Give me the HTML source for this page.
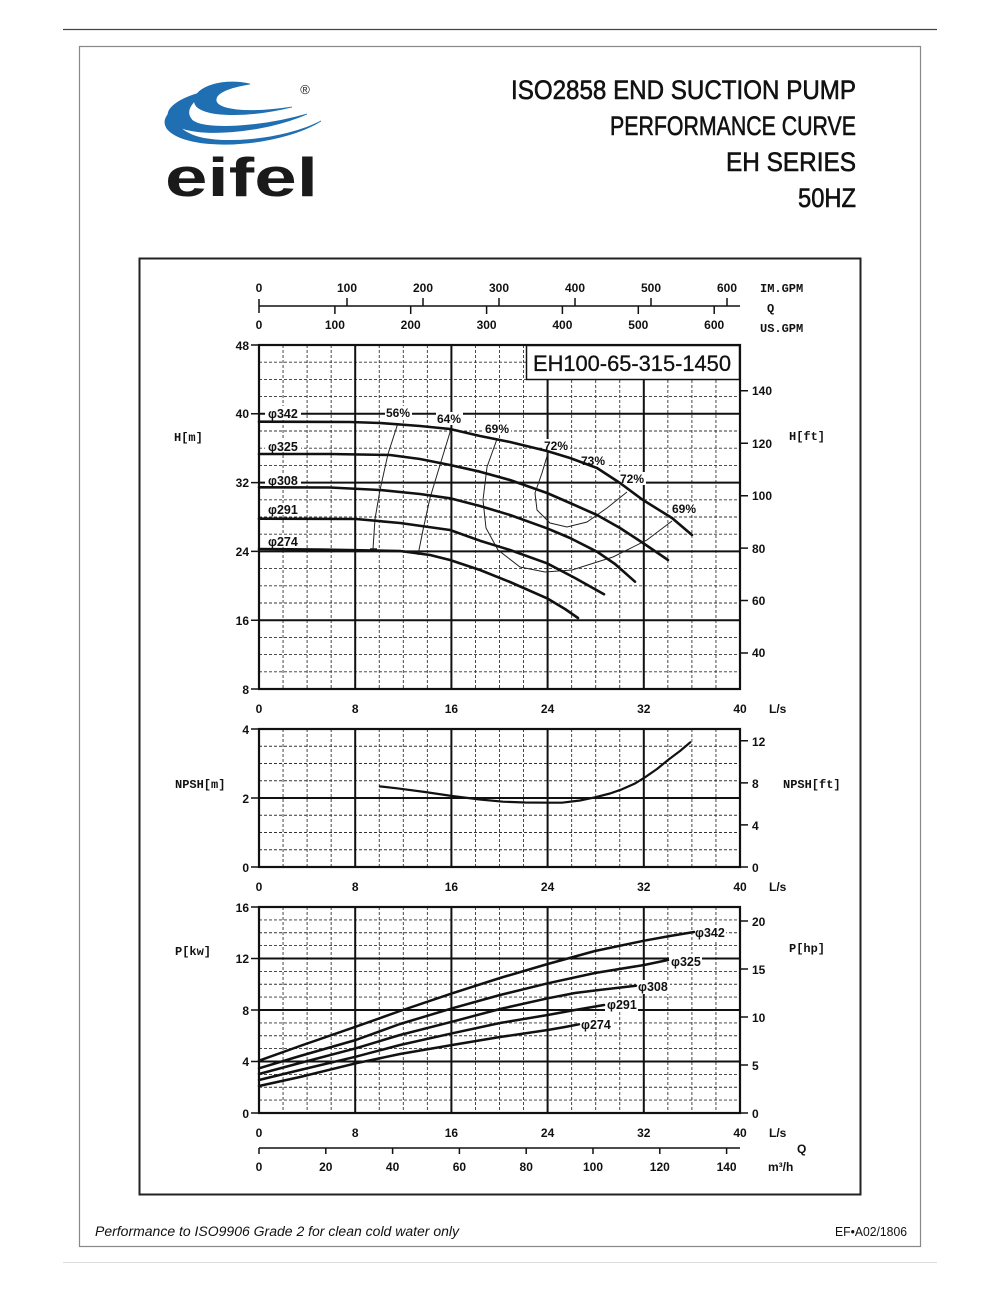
<!DOCTYPE html>
<html>
<head>
<meta charset="utf-8">
<style>
html,body{margin:0;padding:0;background:#fff;}
svg{display:block;}
.t{font-family:"Liberation Sans",Arial,sans-serif;font-weight:bold;font-size:12px;fill:#111;}
.m{font-family:"Liberation Mono","DejaVu Sans Mono",monospace;font-weight:bold;font-size:12px;fill:#111;}
.d{font-family:"Liberation Sans",Arial,sans-serif;font-weight:bold;font-size:12.5px;fill:#111;}
</style>
</head>
<body>
<svg width="1000" height="1293" viewBox="0 0 1000 1293" xmlns="http://www.w3.org/2000/svg">
<rect width="1000" height="1293" fill="#fff"/>
<!-- page lines -->
<line x1="63" y1="29.5" x2="937" y2="29.5" stroke="#444" stroke-width="1.2"/>
<rect x="79.5" y="46.5" width="841" height="1200" fill="none" stroke="#888" stroke-width="1.2"/>
<line x1="63" y1="1262.5" x2="937" y2="1262.5" stroke="#ddd" stroke-width="1"/>

<!-- logo -->
<g fill="#1f6fb2" stroke="#1f6fb2" stroke-width="0.8">
<path d="M250 84 C218 77,190 90,195 104 C200 116,242 119,292 107 C246 114,216 110,216 100 C216 92,232 87,250 84 Z"/>
<path d="M212 90 C178 97,158 111,173 124 C194 139,264 133,307 114 C262 127,204 131,192 120 C183 110,194 98,212 90 Z"/>
<path d="M186 102 C162 113,157 127,179 137 C212 151,284 144,321 121 C283 141,214 146,190 134 C171 125,173 112,186 102 Z"/>
</g>
<text x="305" y="94" font-family="Liberation Sans,sans-serif" font-size="13" fill="#222" text-anchor="middle">®</text>
<text x="165" y="196" font-family="Liberation Sans,Arial,sans-serif" font-weight="bold" font-size="55" fill="#1a1a1a" textLength="153" lengthAdjust="spacingAndGlyphs">eifel</text>

<!-- title -->
<g font-family="Liberation Sans,Arial,sans-serif" font-size="27" fill="#111" stroke="#111" stroke-width="0.6" text-anchor="end">
<text x="856" y="99" textLength="345" lengthAdjust="spacingAndGlyphs">ISO2858 END SUCTION PUMP</text>
<text x="856" y="135" textLength="246" lengthAdjust="spacingAndGlyphs">PERFORMANCE CURVE</text>
<text x="856" y="171" textLength="130" lengthAdjust="spacingAndGlyphs">EH SERIES</text>
<text x="856" y="207" textLength="58" lengthAdjust="spacingAndGlyphs">50HZ</text>
</g>

<!-- inner box -->
<rect x="139.5" y="258.5" width="721" height="936" fill="none" stroke="#222" stroke-width="2"/>

<!-- top axis -->
<g stroke="#111" stroke-width="1.5" fill="none">
<line x1="259" y1="306" x2="740" y2="306"/>
<line x1="259" y1="299" x2="259" y2="313"/>
<path d="M347 298V306 M423 298V306 M499 298V306 M575 298V306 M651 298V306 M727 298V306"/>
<path d="M334.9 306V314 M410.7 306V314 M486.6 306V314 M562.4 306V314 M638.3 306V314 M714.2 306V314"/>
</g>
<g class="t" text-anchor="middle">
<text x="259" y="292">0</text><text x="347" y="292">100</text><text x="423" y="292">200</text><text x="499" y="292">300</text><text x="575" y="292">400</text><text x="651" y="292">500</text><text x="727" y="292">600</text>
<text x="259" y="329">0</text><text x="334.9" y="329">100</text><text x="410.7" y="329">200</text><text x="486.6" y="329">300</text><text x="562.4" y="329">400</text><text x="638.3" y="329">500</text><text x="714.2" y="329">600</text>
</g>
<text class="m" x="760" y="292" font-size="11.5">IM.GPM</text>
<text class="m" x="767" y="312">Q</text>
<text class="m" x="760" y="332" font-size="11.5">US.GPM</text>

<!-- ===== H CHART ===== -->
<g fill="none">
<path stroke="#333" stroke-width="0.9" stroke-dasharray="3,2" d="M283.05 345V689 M307.1 345V689 M331.15 345V689 M379.25 345V689 M403.3 345V689 M427.35 345V689 M475.45 345V689 M499.5 345V689 M523.55 345V689 M571.65 345V689 M595.7 345V689 M619.75 345V689 M667.85 345V689 M691.9 345V689 M715.95 345V689
M259 671.8H740 M259 654.6H740 M259 637.4H740 M259 603H740 M259 585.8H740 M259 568.6H740 M259 534.2H740 M259 517H740 M259 499.8H740 M259 465.4H740 M259 448.2H740 M259 431H740 M259 396.6H740 M259 379.4H740 M259 362.2H740"/>
<path stroke="#111" stroke-width="2" d="M355.2 345V689 M451.4 345V689 M547.6 345V689 M643.8 345V689 M259 620.2H740 M259 551.4H740 M259 482.6H740 M259 413.8H740"/>
<rect x="259" y="345" width="481" height="344" stroke="#111" stroke-width="2.2"/>
<path stroke="#111" stroke-width="1.5" d="M251 345H259 M251 413.8H259 M251 482.6H259 M251 551.4H259 M251 620.2H259 M251 689H259 M740 390.8H748 M740 443.25H748 M740 495.7H748 M740 548.1H748 M740 600.5H748 M740 652.95H748"/>
</g>
<!-- label backgrounds (under curves) -->
<g fill="#fff">
<rect x="265" y="406" width="36" height="14"/>
<rect x="265" y="440" width="36" height="12"/>
<rect x="265" y="474" width="36" height="12"/>
<rect x="265" y="503" width="36" height="12"/>
<rect x="265" y="535" width="36" height="12"/>
<rect x="385" y="406" width="27" height="14"/>
<rect x="436" y="412" width="27" height="13"/>
<rect x="484" y="422" width="27" height="13"/>
<rect x="543" y="439" width="27" height="13"/>
<rect x="580" y="454" width="27" height="13"/>
<rect x="619" y="472" width="27" height="13"/>
<rect x="671" y="502" width="27" height="13"/>
</g>
<!-- model box -->
<rect x="526.5" y="345.5" width="213" height="34" fill="#fff" stroke="#111" stroke-width="1.5"/>
<text x="533" y="371" font-family="Liberation Sans,Arial,sans-serif" font-size="22" fill="#111" stroke="#111" stroke-width="0.3" textLength="198" lengthAdjust="spacingAndGlyphs">EH100-65-315-1450</text>

<!-- efficiency curves -->
<g fill="none" stroke="#222" stroke-width="1">
<polyline points="398,423 388,454 380,490 375,519 373,549"/>
<polyline points="451,429 440,465 430,498 423,530 418,555"/>
<polyline points="497,439 487,467 483,500 486,528 498,550 520,567 545,572 572,570 613,557 647,540 672,521"/>
<polyline points="548,453 542,473 535,493 537,510 550,523 567,527 587,522 607,508 627,492"/>
<path d="M370 549H377" stroke-width="1.5"/>
</g>
<!-- head curves -->
<g fill="none" stroke="#111" stroke-width="2.6" stroke-linejoin="round" stroke-linecap="round">
<polyline points="259,421.7 300,421.8 350,422 380,423 420,426 450,429 480,436 510,442 547,451 570,458 597,468 620,483 643,500 672,518 692,535"/>
<polyline points="259,454 330,454 390,455 420,459 450,465 480,471.7 510,480 547,493 570,503 597,515 620,528 643,543 668,560"/>
<polyline points="259,487.3 330,487.5 380,490 420,494 450,498.3 480,506 510,515 547,528.3 570,538 597,551.7 615,564 635,581.7"/>
<polyline points="259,518.7 356,519 400,523 450,530 480,540.7 510,550 547,563.3 575,578 604,594.3"/>
<polyline points="259,549 320,549.5 400,551 430,555 450,560 480,570 510,582 547,598.3 565,609 578,618"/>
</g>
<g class="d">
<text x="268" y="418">φ342</text>
<text x="268" y="451">φ325</text>
<text x="268" y="485">φ308</text>
<text x="268" y="514">φ291</text>
<text x="268" y="546">φ274</text>
</g>
<g class="t" text-anchor="middle">
<text x="398" y="417">56%</text>
<text x="449" y="423">64%</text>
<text x="497" y="433">69%</text>
<text x="556" y="450">72%</text>
<text x="593" y="465">73%</text>
<text x="632" y="483">72%</text>
<text x="684" y="513">69%</text>
</g>
<g class="t" text-anchor="end">
<text x="249" y="350">48</text><text x="249" y="418">40</text><text x="249" y="487">32</text><text x="249" y="556">24</text><text x="249" y="625">16</text><text x="249" y="694">8</text>
</g>
<g class="t">
<text x="752" y="395">140</text><text x="752" y="448">120</text><text x="752" y="500">100</text><text x="752" y="553">80</text><text x="752" y="605">60</text><text x="752" y="657">40</text>
</g>
<text class="m" x="174" y="441">H[m]</text>
<text class="m" x="789" y="440">H[ft]</text>
<g class="t" text-anchor="middle">
<text x="259" y="713">0</text><text x="355.2" y="713">8</text><text x="451.4" y="713">16</text><text x="547.6" y="713">24</text><text x="643.8" y="713">32</text><text x="740" y="713">40</text>
</g>
<text class="t" x="769" y="713">L/s</text>

<!-- ===== NPSH CHART ===== -->
<g fill="none">
<path stroke="#333" stroke-width="0.9" stroke-dasharray="3,2" d="M283.05 729V867 M307.1 729V867 M331.15 729V867 M379.25 729V867 M403.3 729V867 M427.35 729V867 M475.45 729V867 M499.5 729V867 M523.55 729V867 M571.65 729V867 M595.7 729V867 M619.75 729V867 M667.85 729V867 M691.9 729V867 M715.95 729V867
M259 849.75H740 M259 832.5H740 M259 815.25H740 M259 780.75H740 M259 763.5H740 M259 746.25H740"/>
<path stroke="#111" stroke-width="2" d="M355.2 729V867 M451.4 729V867 M547.6 729V867 M643.8 729V867 M259 798H740"/>
<rect x="259" y="729" width="481" height="138" stroke="#111" stroke-width="2.2"/>
<path stroke="#111" stroke-width="1.5" d="M251 729H259 M251 798H259 M251 867H259 M740 740.8H748 M740 782.9H748 M740 824.9H748 M740 867H748"/>
<polyline stroke="#111" stroke-width="2.2" stroke-linejoin="round" points="379,786.3 397,788.3 425,792 452,796 480,799.5 503,801.7 525,802.5 549,802.7 562,802.7 580,800.5 595,797.3 610,793.5 622,789.3 635,783.5 645,777.3 657,769 668,760 680,751 691,741.7"/>
</g>
<g class="t" text-anchor="end">
<text x="249" y="734">4</text><text x="249" y="803">2</text><text x="249" y="872">0</text>
</g>
<g class="t">
<text x="752" y="746">12</text><text x="752" y="788">8</text><text x="752" y="830">4</text><text x="752" y="872">0</text>
</g>
<text class="m" x="175" y="788">NPSH[m]</text>
<text class="m" x="783" y="788">NPSH[ft]</text>
<g class="t" text-anchor="middle">
<text x="259" y="891">0</text><text x="355.2" y="891">8</text><text x="451.4" y="891">16</text><text x="547.6" y="891">24</text><text x="643.8" y="891">32</text><text x="740" y="891">40</text>
</g>
<text class="t" x="769" y="891">L/s</text>

<!-- ===== P CHART ===== -->
<g fill="none">
<path stroke="#333" stroke-width="0.9" stroke-dasharray="3,2" d="M283.05 907V1113 M307.1 907V1113 M331.15 907V1113 M379.25 907V1113 M403.3 907V1113 M427.35 907V1113 M475.45 907V1113 M499.5 907V1113 M523.55 907V1113 M571.65 907V1113 M595.7 907V1113 M619.75 907V1113 M667.85 907V1113 M691.9 907V1113 M715.95 907V1113
M259 1100.1H740 M259 1087.25H740 M259 1074.4H740 M259 1048.6H740 M259 1035.75H740 M259 1022.9H740 M259 997.1H740 M259 984.25H740 M259 971.4H740 M259 945.6H740 M259 932.75H740 M259 919.9H740"/>
<path stroke="#111" stroke-width="2" d="M355.2 907V1113 M451.4 907V1113 M547.6 907V1113 M643.8 907V1113 M259 1061.5H740 M259 1010H740 M259 958.5H740"/>
<rect x="259" y="907" width="481" height="206" stroke="#111" stroke-width="2.2"/>
<path stroke="#111" stroke-width="1.5" d="M251 907H259 M251 958.5H259 M251 1010H259 M251 1061.5H259 M251 1113H259 M740 921H748 M740 969H748 M740 1017H748 M740 1065H748 M740 1113H748"/>
</g>
<g fill="#fff">
<rect x="694" y="926" width="32" height="14"/>
<rect x="669" y="954" width="33" height="14"/>
<rect x="636" y="980" width="34" height="14"/>
<rect x="605" y="998" width="33" height="14"/>
<rect x="579" y="1018" width="33" height="14"/>
</g>
<g fill="none" stroke="#111" stroke-width="2.5" stroke-linejoin="round" stroke-linecap="round">
<polyline points="259,1060.7 300,1046 355.8,1026.7 400,1011 452.2,993.3 500,978 547.7,964 595,951 644.1,940.7 670,936 694,932"/>
<polyline points="259,1068.3 300,1056 355.8,1040 400,1024 452.2,1008.3 500,995 547.7,983.3 595,973 644.1,965 668,960"/>
<polyline points="259,1074 300,1063 355.8,1048.3 400,1035 452.2,1021.7 500,1009 547.7,998.3 575,993 599,990 636,985.7"/>
<polyline points="259,1080 300,1070 355.8,1056.7 400,1045 452.2,1033.3 500,1023 547.7,1015 575,1010 604,1005"/>
<polyline points="259,1086 300,1077 355.8,1063.3 400,1054 452.2,1045 500,1037 547.7,1030 565,1027 579,1024.3"/>
</g>
<g class="d">
<text x="695" y="937">φ342</text>
<text x="671" y="966">φ325</text>
<text x="638" y="991">φ308</text>
<text x="607" y="1009">φ291</text>
<text x="581" y="1029">φ274</text>
</g>
<g class="t" text-anchor="end">
<text x="249" y="912">16</text><text x="249" y="963">12</text><text x="249" y="1015">8</text><text x="249" y="1066">4</text><text x="249" y="1118">0</text>
</g>
<g class="t">
<text x="752" y="926">20</text><text x="752" y="974">15</text><text x="752" y="1022">10</text><text x="752" y="1070">5</text><text x="752" y="1118">0</text>
</g>
<text class="m" x="175" y="955">P[kw]</text>
<text class="m" x="789" y="952">P[hp]</text>
<g class="t" text-anchor="middle">
<text x="259" y="1137">0</text><text x="355.2" y="1137">8</text><text x="451.4" y="1137">16</text><text x="547.6" y="1137">24</text><text x="643.8" y="1137">32</text><text x="740" y="1137">40</text>
</g>
<text class="t" x="769" y="1137">L/s</text>
<text class="t" x="797" y="1153">Q</text>

<!-- bottom axis -->
<g stroke="#111" stroke-width="1.5" fill="none">
<line x1="259" y1="1148" x2="740" y2="1148"/>
<path d="M259 1148V1154 M325.8 1148V1154 M392.6 1148V1154 M459.4 1148V1154 M526.2 1148V1154 M593 1148V1154 M659.8 1148V1154 M726.6 1148V1154"/>
</g>
<g class="t" text-anchor="middle">
<text x="259" y="1171">0</text><text x="325.8" y="1171">20</text><text x="392.6" y="1171">40</text><text x="459.4" y="1171">60</text><text x="526.2" y="1171">80</text><text x="593" y="1171">100</text><text x="659.8" y="1171">120</text><text x="726.6" y="1171">140</text>
</g>
<text class="t" x="768" y="1171">m³/h</text>

<!-- footer -->
<text x="95" y="1236" font-family="Liberation Sans,Arial,sans-serif" font-style="italic" font-size="13.5" fill="#111" textLength="364" lengthAdjust="spacingAndGlyphs">Performance to ISO9906 Grade 2 for clean cold water only</text>
<text x="907" y="1236" font-family="Liberation Sans,Arial,sans-serif" font-size="13" fill="#111" text-anchor="end" textLength="72" lengthAdjust="spacingAndGlyphs">EF•A02/1806</text>
</svg>
</body>
</html>
